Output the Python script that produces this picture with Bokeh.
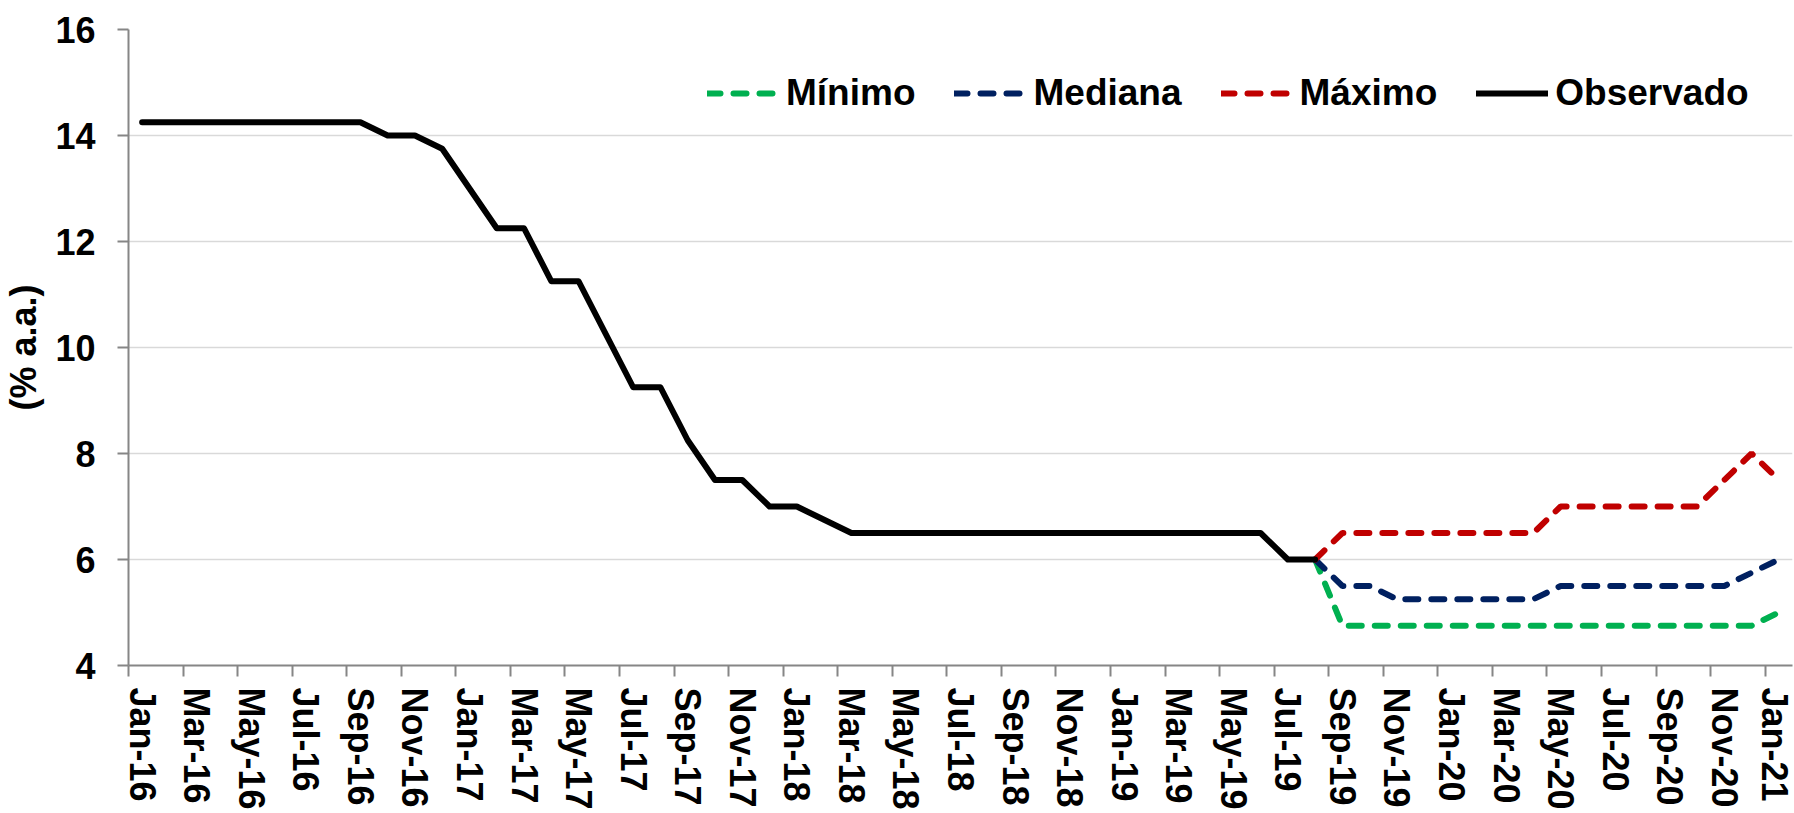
from bokeh.plotting import figure
from bokeh.models import FixedTicker, Range1d, Legend, LegendItem
from bokeh.embed import file_html
from bokeh.resources import INLINE

# --- data ---
month_labels = ["Jan-16", "Mar-16", "May-16", "Jul-16", "Sep-16", "Nov-16",
                "Jan-17", "Mar-17", "May-17", "Jul-17", "Sep-17", "Nov-17",
                "Jan-18", "Mar-18", "May-18", "Jul-18", "Sep-18", "Nov-18",
                "Jan-19", "Mar-19", "May-19", "Jul-19", "Sep-19", "Nov-19",
                "Jan-20", "Mar-20", "May-20", "Jul-20", "Sep-20", "Nov-20",
                "Jan-21"]
n_months = 61  # Jan-16 .. Jan-21

observado = [14.25, 14.25, 14.25, 14.25, 14.25, 14.25, 14.25, 14.25, 14.25,
             14.00, 14.00, 13.75,
             13.00, 12.25, 12.25, 11.25, 11.25, 10.25, 9.25, 9.25, 8.25, 7.50, 7.50, 7.00,
             7.00, 6.75, 6.50, 6.50, 6.50, 6.50, 6.50, 6.50, 6.50, 6.50, 6.50, 6.50,
             6.50, 6.50, 6.50, 6.50, 6.50, 6.50, 6.00, 6.00]
# forecasts from Aug-19 to Jan-21
minimo = [6.00, 4.75, 4.75, 4.75, 4.75, 4.75, 4.75, 4.75, 4.75, 4.75, 4.75, 4.75,
          4.75, 4.75, 4.75, 4.75, 4.75, 5.00]
mediana = [6.00, 5.50, 5.50, 5.25, 5.25, 5.25, 5.25, 5.25, 5.25, 5.50, 5.50, 5.50,
           5.50, 5.50, 5.50, 5.50, 5.75, 6.00]
maximo = [6.00, 6.50, 6.50, 6.50, 6.50, 6.50, 6.50, 6.50, 6.50, 7.00, 7.00, 7.00,
          7.00, 7.00, 7.00, 7.50, 8.00, 7.50]
y_ticks = [4, 6, 8, 10, 12, 14, 16]

x_obs = list(range(len(observado)))
start_fc = len(observado) - 1
x_fc = list(range(start_fc, start_fc + len(minimo)))

FONT = "Liberation Sans"
LW = 6
DASH = "13 13"

p = figure(width=1794, height=813, output_backend="svg", toolbar_location=None,
           x_range=Range1d(-0.5, n_months - 0.5), y_range=Range1d(4, 16),
           min_border_left=128, min_border_right=2, min_border_top=29,
           min_border_bottom=148)
p.outline_line_color = None
p.background_fill_color = "white"
p.border_fill_color = "white"

r_min = p.line(x_fc, minimo, line_color="#00b050", line_width=LW, line_dash=DASH,
               line_cap="round")
r_med = p.line(x_fc, mediana, line_color="#002060", line_width=LW, line_dash=DASH,
               line_cap="round")
r_max = p.line(x_fc, maximo, line_color="#c00000", line_width=LW, line_dash=DASH,
               line_cap="round")
r_obs = p.line(x_obs, observado, line_color="black", line_width=LW, line_cap="round",
               line_join="round")

# x axis: labels at category centres, tick marks at category boundaries
label_pos = list(range(0, n_months, 2))
boundary_pos = [i - 0.5 for i in label_pos if i - 0.5 < n_months - 1]
p.xaxis.ticker = FixedTicker(ticks=label_pos, minor_ticks=boundary_pos)
p.xaxis.major_label_overrides = {i: lab for i, lab in zip(label_pos, month_labels)}
p.xaxis.major_label_orientation = "vertical"
p.xaxis.major_tick_line_color = None
p.xaxis.major_tick_out = 11
p.xaxis.major_tick_in = 0
p.xaxis.minor_tick_line_color = "#868686"
p.xaxis.minor_tick_line_width = 2
p.xaxis.minor_tick_out = 11
p.xaxis.minor_tick_in = 0
p.xaxis.major_label_standoff = 11

p.yaxis.ticker = FixedTicker(ticks=y_ticks)
p.yaxis.major_tick_line_color = "#868686"
p.yaxis.major_tick_line_width = 2
p.yaxis.major_tick_out = 11
p.yaxis.major_tick_in = 0
p.yaxis.minor_tick_line_color = None
p.yaxis.major_label_standoff = 22
p.yaxis.axis_label = "(% a.a.)"
p.yaxis.axis_label_standoff = 8
p.yaxis.axis_label_text_font = FONT
p.yaxis.axis_label_text_font_size = "36px"
p.yaxis.axis_label_text_font_style = "bold"
p.yaxis.axis_label_text_color = "black"

for ax in (p.xaxis, p.yaxis):
    ax.axis_line_color = "#868686"
    ax.axis_line_width = 2
    ax.major_label_text_font = FONT
    ax.major_label_text_font_size = "36px"
    ax.major_label_text_font_style = "bold"
    ax.major_label_text_color = "black"

p.xgrid.grid_line_color = None
p.ygrid.grid_line_color = "#d9d9d9"
p.ygrid.grid_line_width = 1.5

legend = Legend(items=[LegendItem(label="Mínimo", renderers=[r_min]),
                       LegendItem(label="Mediana", renderers=[r_med]),
                       LegendItem(label="Máximo", renderers=[r_max]),
                       LegendItem(label="Observado", renderers=[r_obs])],
                orientation="horizontal", location=(579, 551))
legend.glyph_width = 72
legend.glyph_height = 30
legend.label_standoff = 7
legend.spacing = 39
legend.padding = 0
legend.margin = 0
legend.background_fill_alpha = 0
legend.border_line_alpha = 0
legend.label_text_font = FONT
legend.label_text_font_size = "37px"
legend.label_text_font_style = "bold"
legend.label_text_color = "black"
p.add_layout(legend, "center")

open("out.html", "w").write(file_html(p, INLINE))
